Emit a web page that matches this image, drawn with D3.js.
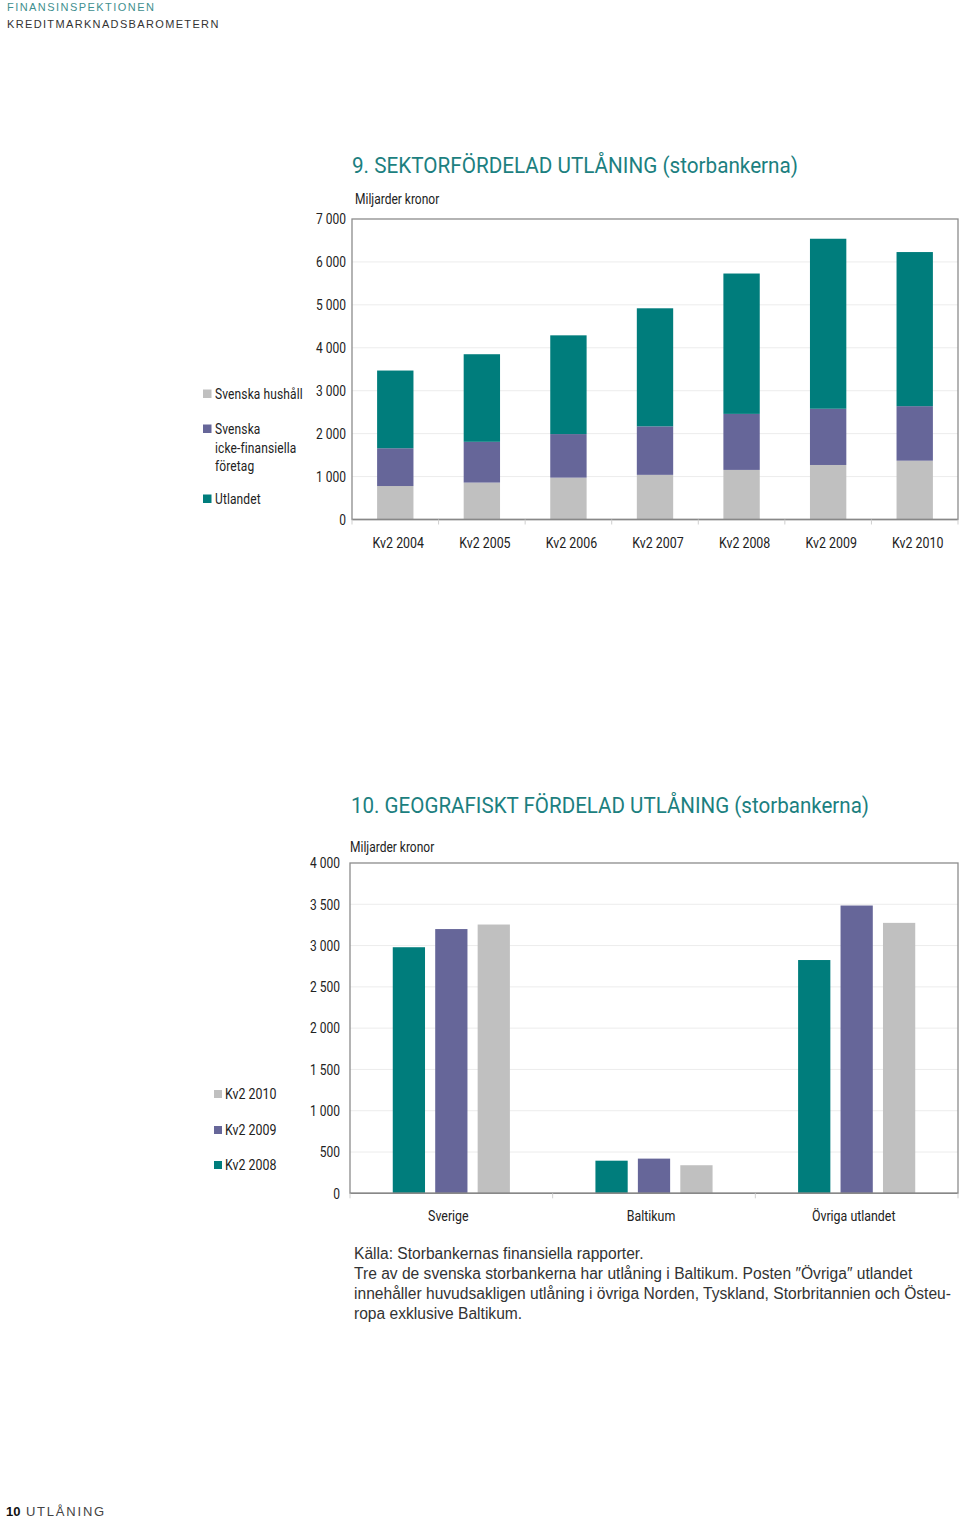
<!DOCTYPE html>
<html><head><meta charset="utf-8">
<script src="https://cdn.jsdelivr.net/npm/d3@7"></script>
<style>
body{margin:0;background:#fff;}
svg{display:block;}
</style></head>
<body>
<script>
// ---------- DATA ----------
const periods1 = ["Kv2 2004","Kv2 2005","Kv2 2006","Kv2 2007","Kv2 2008","Kv2 2009","Kv2 2010"];
const hushall   = [780, 860, 975, 1040, 1155, 1270, 1370];
const foretag   = [880, 950, 1015, 1130, 1305, 1310, 1270];
const utlandet  = [1810, 2040, 2300, 2750, 3270, 3960, 3590];
const ticks1 = [0,1000,2000,3000,4000,5000,6000,7000];

const regions2 = ["Sverige","Baltikum","Övriga utlandet"];
const series2 = ["Kv2 2008","Kv2 2009","Kv2 2010"];
const kv2008 = [2980, 395, 2825];
const kv2009 = [3200, 420, 3485];
const kv2010 = [3255, 340, 3275];
const ticks2 = [0,500,1000,1500,2000,2500,3000,3500,4000];

const TEAL="#007d7c", PURPLE="#666699", GREY="#c0c0c0";
const COND = "Roboto,'Liberation Sans',sans-serif";
const SANS = "'Liberation Sans','DejaVu Sans',sans-serif";
const SX = 0.8;
const fmt = v => d3.format(",")(v).replace(/,/g," ");

const svg = d3.select("body").append("svg").attr("width",960).attr("height",1518);

function ct(g, x, y, str, anchor="start", size=15){
  return g.append("text")
    .attr("transform",`translate(${x},${y}) scale(${SX},1)`)
    .attr("text-anchor",anchor).attr("dy","0.35em")
    .attr("font-family",COND).attr("font-size",size).attr("fill","#222").text(str);
}

// ---------- HEADER ----------
svg.append("text").attr("x",7).attr("y",11).text("FINANSINSPEKTIONEN")
  .attr("font-family",SANS).attr("font-size",11).attr("fill","#3f8f8f").attr("letter-spacing",1.45);
svg.append("text").attr("x",7).attr("y",28).text("KREDITMARKNADSBAROMETERN")
  .attr("font-family",SANS).attr("font-size",11).attr("fill","#333").attr("letter-spacing",1.35);

// ---------- FOOTER ----------
const ft = svg.append("text").attr("x",6).attr("y",1516).attr("font-family",SANS).attr("font-size",13);
ft.append("tspan").text("10").attr("font-weight","bold").attr("fill","#111");
ft.append("tspan").text(" UTLÅNING").attr("fill","#444").attr("letter-spacing",1.8);

function frame(g, x0, x1, y, ticks, labelX){
  g.selectAll(null).data(ticks.slice(1,-1)).enter().append("line")
    .attr("x1",x0).attr("x2",x1).attr("y1",d=>y(d)).attr("y2",d=>y(d))
    .attr("stroke","#ececec").attr("stroke-width",1);
  ticks.forEach(t=>ct(g, labelX, y(t), fmt(t), "end"));
}

// ---------- CHART 1 ----------
{
  const L=352, R=958, T=219, B=519.5;
  const g = svg.append("g");
  g.append("text").attr("x",352).attr("y",173).attr("fill","#1c7f80")
    .attr("font-family",COND).attr("font-size",22)
    .attr("textLength",446).attr("lengthAdjust","spacingAndGlyphs")
    .text("9. SEKTORFÖRDELAD UTLÅNING (storbankerna)");
  ct(g, 355, 199, "Miljarder kronor");

  const y = d3.scaleLinear().domain([0,7000]).range([B,T]);
  const x = d3.scaleBand().domain(periods1).range([L,R]).padding(0);
  frame(g, L, R, y, ticks1, 346);

  const rows = periods1.map((p,i)=>({p, hushall:hushall[i], foretag:foretag[i], utlandet:utlandet[i]}));
  const keys = ["hushall","foretag","utlandet"];
  const col = {hushall:GREY, foretag:PURPLE, utlandet:TEAL};
  const stack = d3.stack().keys(keys)(rows);
  const bw = x.bandwidth()*0.42;
  stack.forEach(layer=>{
    g.selectAll(null).data(layer).enter().append("rect")
      .attr("x",d=>x(d.data.p)+(x.bandwidth()-bw)/2).attr("width",bw)
      .attr("y",d=>y(d[1])).attr("height",d=>y(d[0])-y(d[1]))
      .attr("fill",col[layer.key]);
  });
  g.append("rect").attr("x",L).attr("y",T).attr("width",R-L).attr("height",B-T)
    .attr("fill","none").attr("stroke","#8c8c8c").attr("stroke-width",1.3);
  g.append("line").attr("x1",L).attr("x2",R).attr("y1",B).attr("y2",B).attr("stroke","#888").attr("stroke-width",1.6);
  const bounds = periods1.map(p=>x(p)).concat([R]);
  g.selectAll(null).data(bounds).enter().append("line")
    .attr("x1",d=>d).attr("x2",d=>d).attr("y1",B).attr("y2",B+5).attr("stroke","#cfcfcf");
  periods1.forEach(p=>ct(g, x(p)+x.bandwidth()/2+3, 543, p, "middle", 15.5));

  const leg = [{t:["Svenska hushåll"],c:GREY,y:394},{t:["Svenska","icke-finansiella","företag"],c:PURPLE,y:429},{t:["Utlandet"],c:TEAL,y:499}];
  leg.forEach(l=>{
    g.append("rect").attr("x",203).attr("y",l.y-4.5).attr("width",8.5).attr("height",8.5).attr("fill",l.c);
    l.t.forEach((s,i)=>ct(g, 215, l.y+i*18.5, s).attr("letter-spacing",0.15));
  });
}

// ---------- CHART 2 ----------
{
  const L=350, R=958, T=863, B=1193.3;
  const g = svg.append("g");
  g.append("text").attr("x",351).attr("y",813).attr("fill","#1c7f80")
    .attr("font-family",COND).attr("font-size",22)
    .attr("textLength",518).attr("lengthAdjust","spacingAndGlyphs")
    .text("10. GEOGRAFISKT FÖRDELAD UTLÅNING (storbankerna)");
  ct(g, 350, 847, "Miljarder kronor");

  const y = d3.scaleLinear().domain([0,4000]).range([B,T]);
  const x0 = d3.scaleBand().domain(regions2).range([L,R]).padding(0);
  const x1 = d3.scaleBand().domain(series2).range([x0.bandwidth()*0.211, x0.bandwidth()*0.789]).paddingInner(0.24).paddingOuter(0);
  frame(g, L, R, y, ticks2, 340);

  const vals = {"Kv2 2008":kv2008,"Kv2 2009":kv2009,"Kv2 2010":kv2010};
  const col = {"Kv2 2008":TEAL,"Kv2 2009":PURPLE,"Kv2 2010":GREY};
  regions2.forEach((r,i)=>{
    g.selectAll(null).data(series2).enter().append("rect")
      .attr("x",s=>x0(r)+x1(s)).attr("width",x1.bandwidth())
      .attr("y",s=>y(vals[s][i])).attr("height",s=>B-y(vals[s][i]))
      .attr("fill",s=>col[s]);
  });
  g.append("rect").attr("x",L).attr("y",T).attr("width",R-L).attr("height",B-T)
    .attr("fill","none").attr("stroke","#8c8c8c").attr("stroke-width",1.3);
  g.append("line").attr("x1",L).attr("x2",R).attr("y1",B).attr("y2",B).attr("stroke","#888").attr("stroke-width",1.6);
  const bounds = regions2.map(p=>x0(p)).concat([R]);
  g.selectAll(null).data(bounds).enter().append("line")
    .attr("x1",d=>d).attr("x2",d=>d).attr("y1",B).attr("y2",B+5).attr("stroke","#cfcfcf");
  regions2.forEach(r=>ct(g, x0(r)+x0.bandwidth()/2-3, 1216, r, "middle", 15.5));

  const leg = [{t:"Kv2 2010",c:GREY,y:1094},{t:"Kv2 2009",c:PURPLE,y:1130},{t:"Kv2 2008",c:TEAL,y:1165}];
  leg.forEach(l=>{
    g.append("rect").attr("x",214).attr("y",l.y-4).attr("width",8).attr("height",8).attr("fill",l.c);
    ct(g, 225, l.y, l.t, "start", 15.5);
  });

  const notes = ["Källa: Storbankernas finansiella rapporter.",
    "Tre av de svenska storbankerna har utlåning i Baltikum. Posten ″Övriga″ utlandet",
    "innehåller huvudsakligen utlåning i övriga Norden, Tyskland, Storbritannien och Östeu-",
    "ropa exklusive Baltikum."];
  notes.forEach((n,i)=>g.append("text").attr("x",354).attr("y",1259+i*20)
    .attr("font-family",SANS).attr("font-size",15.6).attr("fill","#333").text(n));
}
</script>
</body></html>
